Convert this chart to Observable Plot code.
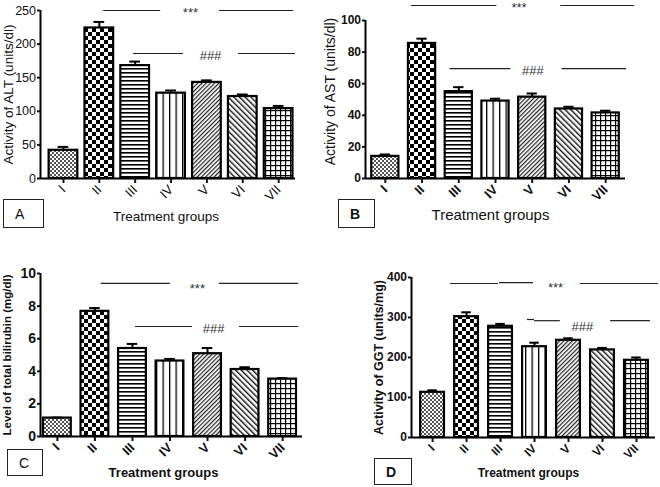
<!DOCTYPE html>
<html>
<head>
<meta charset="utf-8">
<script src="https://cdn.jsdelivr.net/npm/d3@7"></script>
<script src="https://cdn.jsdelivr.net/npm/@observablehq/plot@0.6"></script>
<style>
  html, body { margin: 0; padding: 0; background: #fff; }
  #root { position: relative; width: 660px; height: 487px; background: #fff; overflow: hidden; font-family: "Liberation Sans", Arial, sans-serif; }
  .panel { position: absolute; }
  .tag { position: absolute; border: 1px solid #222; box-sizing: border-box; font-size: 14px; color: #111; display: flex; align-items: center; padding-left: 11px; background: #fff; }
</style>
</head>
<body>
<svg width="0" height="0" style="position:absolute">
  <defs>
    <pattern id="pI" width="4" height="4" patternUnits="userSpaceOnUse">
      <rect width="4" height="4" fill="#fff"/>
      <rect width="2" height="2" fill="#555"/>
      <rect x="2" y="2" width="2" height="2" fill="#555"/>
    </pattern>
    <pattern id="pII" width="8" height="8" patternUnits="userSpaceOnUse">
      <rect width="8" height="8" fill="#fff"/>
      <rect width="4" height="4" fill="#000"/>
      <rect x="4" y="4" width="4" height="4" fill="#000"/>
    </pattern>
    <pattern id="pIII" width="4" height="4" patternUnits="userSpaceOnUse">
      <rect width="4" height="4" fill="#fff"/>
      <rect y="0" width="4" height="1.6" fill="#000"/>
    </pattern>
    <pattern id="pIV" width="6.5" height="6" patternUnits="userSpaceOnUse">
      <rect width="6.5" height="6" fill="#fff"/>
      <rect x="0" width="1.3" height="6" fill="#000"/>
    </pattern>
    <pattern id="pV" width="3" height="3" patternUnits="userSpaceOnUse" patternTransform="rotate(45)">
      <rect width="3" height="3" fill="#fff"/>
      <rect width="1.2" height="3" fill="#222"/>
    </pattern>
    <pattern id="pVI" width="4" height="4" patternUnits="userSpaceOnUse" patternTransform="rotate(-45)">
      <rect width="4" height="4" fill="#fff"/>
      <rect width="1.4" height="4" fill="#111"/>
    </pattern>
    <pattern id="pVII" width="5" height="5" patternUnits="userSpaceOnUse">
      <rect width="5" height="5" fill="#fff"/>
      <rect width="5" height="1.2" fill="#000"/>
      <rect width="1.2" height="5" fill="#000"/>
    </pattern>
  </defs>
</svg>
<div id="root"></div>
<script>
// ---------- data ----------
const groups = ["I", "II", "III", "IV", "V", "VI", "VII"];
const groupPatterns = ["url(#pI)", "url(#pII)", "url(#pIII)", "url(#pIV)", "url(#pV)", "url(#pVI)", "url(#pVII)"];

// A: ALT (units/dl)
const altMean = [42, 224, 168, 127, 143, 122, 104];
const altSem  = [5, 9, 6, 4, 3, 3, 4];
const altTicks = [0, 50, 100, 150, 200, 250];
const altLines = [
  {x1: 2.12, x2: 3.71, y: 250}, {x1: 5.35, x2: 7.42, y: 250},
  {x1: 2.95, x2: 4.35, y: 186}, {x1: 5.88, x2: 7.47, y: 186}
];
const altMarks = [{x: 4.54, y: 250, t: "***"}, {x: 5.10, y: 186, t: "###"}];

// B: AST (units/dl)
const astMean = [14, 85.5, 55, 49, 51.5, 44, 41.5];
const astSem  = [1.2, 3, 2.8, 1.5, 2.3, 1.4, 1.4];
const astTicks = [0, 20, 40, 60, 80, 100];
const astLines = [
  {x1: 1.71, x2: 4.04, y: 109.5}, {x1: 5.78, x2: 7.79, y: 109.5},
  {x1: 2.76, x2: 4.42, y: 69.6}, {x1: 5.81, x2: 7.57, y: 69.6}
];
const astMarks = [{x: 4.64, y: 109.5, t: "***"}, {x: 5.02, y: 69.6, t: "###"}];

// C: total bilirubin (mg/dl)
const tbMean = [1.13, 7.68, 5.4, 4.63, 5.08, 4.11, 3.52];
const tbSem  = [0.03, 0.2, 0.28, 0.13, 0.35, 0.14, 0.06];
const tbTicks = [0, 2, 4, 6, 8, 10];
const tbLines = [
  {x1: 2.17, x2: 4.01, y: 9.39}, {x1: 5.32, x2: 7.43, y: 9.39},
  {x1: 3.08, x2: 4.60, y: 6.75}, {x1: 5.85, x2: 7.43, y: 6.75}
];
const tbMarks = [{x: 4.73, y: 9.2, t: "***"}, {x: 5.16, y: 6.75, t: "###"}];

// D: GGT (units/mg)
const ggtMean = [113, 302, 278, 227, 243, 219, 193];
const ggtSem  = [5, 11, 6, 10, 5, 5, 7];
const ggtTicks = [0, 100, 200, 300, 400];
const ggtLines = [
  {x1: 1.53, x2: 2.94, y: 385}, {x1: 2.97, x2: 3.97, y: 387}, {x1: 5.35, x2: 7.65, y: 385},
  {x1: 3.79, x2: 4.00, y: 295}, {x1: 4.00, x2: 4.76, y: 292}, {x1: 6.24, x2: 7.41, y: 292}
];
const ggtMarks = [{x: 4.62, y: 378, t: "***"}, {x: 5.41, y: 282, t: "###"}];

const FONT = "'Liberation Sans', Arial, Helvetica, sans-serif";

function panel(cfg) {
  const rows = groups.map((g, k) => ({g, i: k + 1, mean: cfg.mean[k], top: cfg.mean[k] + cfg.sem[k]}));
  const hw = cfg.hw, cap = cfg.cap;
  const [x0, x1] = cfg.xDomain;
  const yMax = cfg.yTicks[cfg.yTicks.length - 1];
  return Plot.plot({
    width: cfg.width, height: cfg.height,
    marginLeft: cfg.ml, marginRight: cfg.mr, marginTop: cfg.mt, marginBottom: cfg.mb,
    style: {fontFamily: FONT, background: "transparent", overflow: "visible", color: "#111"},
    x: {type: "linear", domain: cfg.xDomain},
    y: {domain: [0, yMax]},
    color: {type: "ordinal", domain: groups, range: groupPatterns},
    marks: [
      Plot.rectY(rows, {x1: d => d.i - hw, x2: d => d.i + hw, y1: 0, y2: "mean", fill: "g", stroke: "#000", strokeWidth: 2.2}),
      Plot.ruleX(rows, {x: "i", y1: "mean", y2: "top", stroke: "#000", strokeWidth: 2}),
      Plot.ruleY(rows, {y: "top", x1: d => d.i - cap, x2: d => d.i + cap, stroke: "#000", strokeWidth: 2}),
      Plot.ruleX([x0], {y1: 0, y2: yMax, stroke: "#000", strokeWidth: 2}),
      Plot.ruleY([0], {x1: x0, x2: x1, stroke: "#000", strokeWidth: 2}),
      Plot.axisY({ticks: cfg.yTicks, tickSize: 3, tickPadding: 1.5, strokeWidth: 2, label: null,
        fontSize: cfg.yTickFont, fontWeight: cfg.yTickWeight, fill: "#111"}),
      Plot.axisX({ticks: groups.map((g, k) => k + 1), tickFormat: i => groups[i - 1], tickRotate: -45,
        tickSize: 5, tickPadding: 4, strokeWidth: 2, label: null,
        fontSize: cfg.xTickFont, fontWeight: cfg.xTickWeight, fill: "#111"}),
      Plot.text([cfg.yLabel], {frameAnchor: "left", textAnchor: "middle", lineAnchor: "middle", rotate: -90,
        dx: cfg.yLabelDx, dy: cfg.yLabelDy || 0,
        fontSize: cfg.yLabelFont, fontWeight: cfg.yLabelWeight, fill: "#111"}),
      Plot.text([cfg.xLabel], {frameAnchor: "bottom", textAnchor: "middle", lineAnchor: "middle",
        dy: cfg.xLabelDy, dx: cfg.xLabelDx || 0,
        fontSize: cfg.xLabelFont, fontWeight: cfg.xLabelWeight, fill: "#111", letterSpacing: cfg.xLabelSpacing || 0}),
      Plot.ruleY(cfg.lines, {y: "y", x1: "x1", x2: "x2", stroke: "#222", strokeWidth: 1.2}),
      Plot.text(cfg.marks, {x: "x", y: "y", text: "t", fontSize: 13, fill: "#333", dy: 2, letterSpacing: 0.5})
    ]
  });
}

const root = document.getElementById("root");
function place(node, left, top) {
  node.classList.add("panel");
  node.style.left = left + "px";
  node.style.top = top + "px";
  root.appendChild(node);
}
function tag(letter, left, top, w, h, weight) {
  const d = document.createElement("div");
  d.className = "tag";
  d.textContent = letter;
  Object.assign(d.style, {left: left + "px", top: top + "px", width: w + "px", height: h + "px", fontWeight: weight});
  root.appendChild(d);
}

place(panel({
  mean: altMean, sem: altSem, yTicks: altTicks, lines: altLines, marks: altMarks,
  width: 330, height: 240, ml: 40, mr: 35, mt: 10, mb: 62,
  xDomain: [0.36, 7.47], hw: 0.40, cap: 0.15,
  yTickFont: 12.5, yTickWeight: "normal", xTickFont: 13, xTickWeight: "normal",
  yLabel: "Activity of ALT (units/dl)", yLabelDx: -32, yLabelFont: 13.5, yLabelWeight: "normal",
  xLabel: "Treatment groups", xLabelDy: 38, xLabelDx: -2, xLabelFont: 13.5, xLabelWeight: "normal"
}), 0, 0);

place(panel({
  mean: astMean, sem: astSem, yTicks: astTicks, lines: astLines, marks: astMarks,
  width: 330, height: 240, ml: 35, mr: 35, mt: 20, mb: 62,
  xDomain: [0.46, 7.54], hw: 0.37, cap: 0.14,
  yTickFont: 12, yTickWeight: "bold", xTickFont: 13, xTickWeight: "bold",
  yLabel: "Activity of AST (units/dl)", yLabelDx: -35, yLabelDy: -8, yLabelFont: 14, yLabelWeight: "normal",
  xLabel: "Treatment groups", xLabelDy: 37, xLabelDx: -5, xLabelFont: 15, xLabelWeight: "normal"
}), 330, 0);

place(panel({
  mean: tbMean, sem: tbSem, yTicks: tbTicks, lines: tbLines, marks: tbMarks,
  width: 330, height: 244, ml: 40, mr: 28, mt: 30, mb: 51,
  xDomain: [0.55, 7.53], hw: 0.37, cap: 0.14,
  yTickFont: 14, yTickWeight: "bold", xTickFont: 13, xTickWeight: "bold",
  yLabel: "Level of total bilirubin (mg/dl)", yLabelDx: -33, yLabelFont: 11.5, yLabelWeight: "bold",
  xLabel: "Treatment groups", xLabelDy: 36, xLabelDx: -8, xLabelFont: 13, xLabelWeight: "bold", xLabelSpacing: 0.5
}), 0, 243);

place(panel({
  mean: ggtMean, sem: ggtSem, yTicks: ggtTicks, lines: ggtLines, marks: ggtMarks,
  width: 330, height: 244, ml: 81, mr: 5, mt: 34, mb: 50,
  xDomain: [0.38, 7.56], hw: 0.35, cap: 0.14,
  yTickFont: 12, yTickWeight: "bold", xTickFont: 12, xTickWeight: "bold",
  yLabel: "Activity of GGT (units/mg)", yLabelDx: -33, yLabelFont: 12.5, yLabelWeight: "bold",
  xLabel: "Treatment groups", xLabelDy: 36, xLabelDx: -5, xLabelFont: 12, xLabelWeight: "bold", xLabelSpacing: 1
}), 330, 243);

tag("A", 3, 199, 41, 29, "normal");
tag("B", 338, 199, 37, 29, "bold");
tag("C", 7, 449, 36, 27, "normal");
tag("D", 374, 458, 38, 27, "bold");
</script>
</body>
</html>
